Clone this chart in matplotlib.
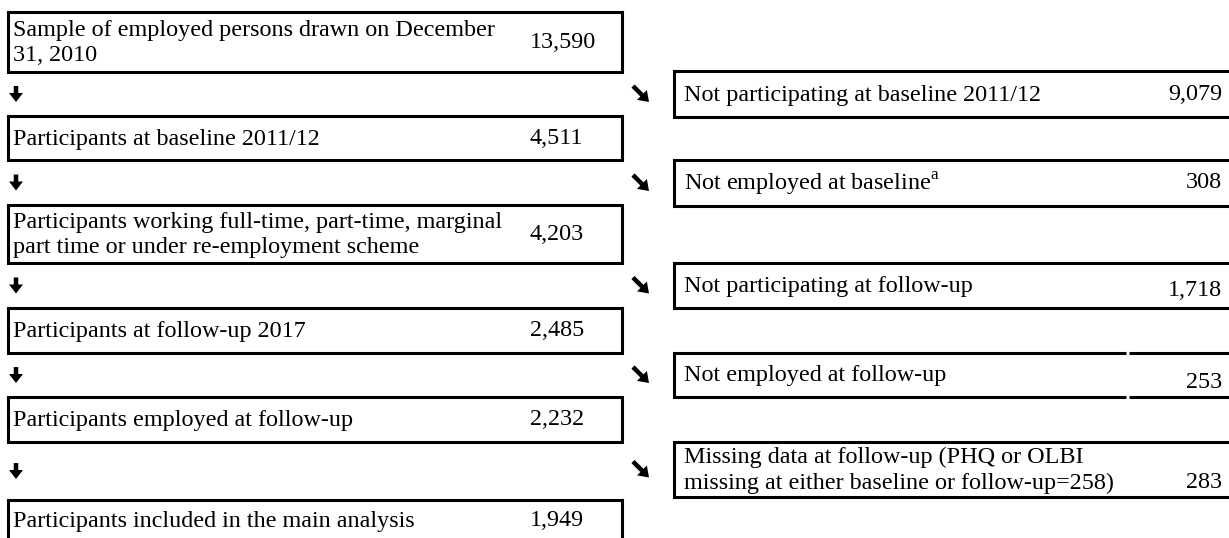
import matplotlib
matplotlib.use("Agg")
import matplotlib.pyplot as plt
from matplotlib.patches import FancyArrow

plt.rcParams['font.family'] = ['Liberation Serif', 'DejaVu Serif']
plt.rcParams['mathtext.fontset'] = 'custom'
plt.rcParams['mathtext.rm'] = 'Liberation Serif'

# flow chart content
left_labels = [
    "Sample of employed persons drawn on December\n31, 2010",
    "Participants at baseline 2011/12",
    "Participants working full-time, part-time, marginal\npart time or under re-employment scheme",
    "Participants at follow-up 2017",
    "Participants employed at follow-up",
    "Participants included in the main analysis",
]
left_counts = ["13,590", "4,511", "4,203", "2,485", "2,232", "1,949"]

right_labels = [
    "Not participating at baseline 2011/12",
    "Not employed at baseline$^{\\mathrm{a}}$",
    "Not participating at follow-up",
    "Not employed at follow-up",
    "Missing data at follow-up (PHQ or OLBI\nmissing at either baseline or follow-up=258)",
]
right_counts = ["9,079", "308", "1,718", "253", "283"]

# layout in pixels (top, bottom)
left_rows = [(12, 72), (116, 160), (205, 263), (308, 353), (397, 442), (500, 565)]
right_rows = [(71, 117), (160, 206), (263, 308), (353, 397), (442, 497)]
count_offset = [0, 0, 5, 8, 13]   # counts sit lower in some right boxes

W, H = 1229, 538
fig = plt.figure(figsize=(W / 100, H / 100), dpi=100)
ax = fig.add_axes([0, 0, 1, 1])
ax.set_xlim(0, W)
ax.set_ylim(H, 0)
ax.axis('off')

lw = 2.2
fs = 17.4
ls = 1.3
LX0, LX1 = 8, 622
RX0, RX1 = 674, W + 10

for (t, b), lab, n in zip(left_rows, left_labels, left_counts):
    ax.plot([LX0, LX1, LX1, LX0, LX0], [t, t, b, b, t], color='black', lw=lw,
            solid_joinstyle='miter', clip_on=False)
    yc = t + 21 if b > H else (t + b) / 2
    ax.text(LX0 + 5, yc + 1, lab, fontsize=fs, va='center', ha='left', linespacing=ls)
    ax.text(530, yc, n, fontsize=fs, va='center', ha='left')

for i, ((t, b), lab, n) in enumerate(zip(right_rows, right_labels, right_counts)):
    if i == 3:
        # this box has a small break in the horizontal rules
        for y in (t, b):
            ax.plot([RX0, 1126], [y, y], color='black', lw=lw, solid_capstyle='butt')
            ax.plot([1129, RX1], [y, y], color='black', lw=lw, solid_capstyle='butt')
    else:
        for y in (t, b):
            ax.plot([RX0, RX1], [y, y], color='black', lw=lw, solid_capstyle='butt')
    ax.plot([RX0, RX0], [t, b], color='black', lw=lw, solid_capstyle='projecting')
    yc = (t + b) / 2
    ax.text(RX0 + 10, yc + 1, lab, fontsize=fs, va='center', ha='left', linespacing=ls)
    ax.text(1222, yc + count_offset[i], n, fontsize=fs, va='center', ha='right')

# arrows down between left boxes
for (t0, b0), (t1, b1) in zip(left_rows[:-1], left_rows[1:]):
    ym = (b0 + t1) / 2
    ax.add_patch(FancyArrow(16, ym - 8, 0, 16, width=4.5, head_width=14,
                            head_length=9, length_includes_head=True,
                            color='black', lw=0))

# diagonal arrows to the right boxes
for t, b in right_rows:
    ym = (t + b) / 2
    ax.add_patch(FancyArrow(633, ym - 8, 16, 16, width=4.5, head_width=14,
                            head_length=10, length_includes_head=True,
                            color='black', lw=0))

fig.savefig("out.png", dpi=100, facecolor='white')
